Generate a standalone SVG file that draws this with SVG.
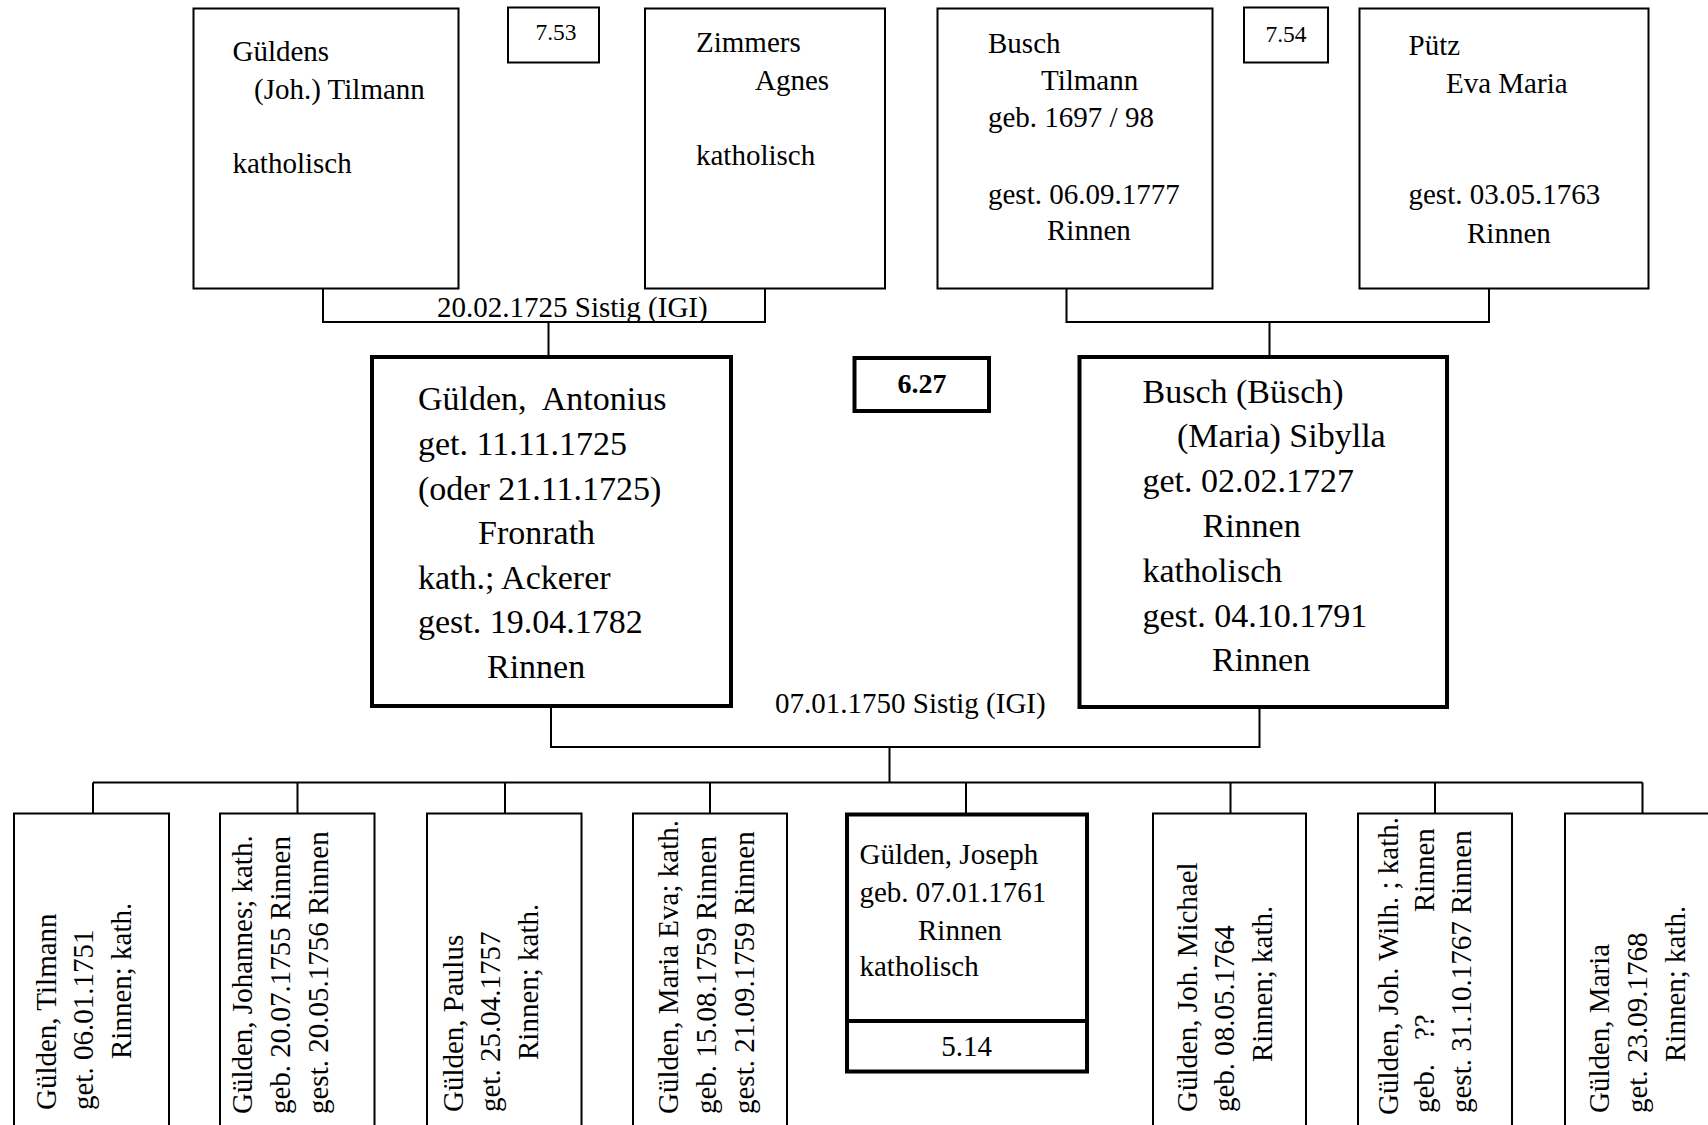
<svg xmlns="http://www.w3.org/2000/svg" width="1708" height="1125" viewBox="0 0 1708 1125">
<style>
text{font-family:"Liberation Serif","Times New Roman",serif;fill:#000;white-space:pre}
.t{font-size:29px}
.b{font-size:34px}
.s{font-size:23.5px}
.n{fill:#fff;stroke:#000;stroke-width:2}
.k{fill:#fff;stroke:#000;stroke-width:4}
.c{fill:none;stroke:#000;stroke-width:2}
</style>
<rect width="1708" height="1125" fill="#fff"/>
<g id="connectors">
<path class="c" d="M323,289V322H765V289M548.5,322V357"/>
<path class="c" d="M1066.5,289V322H1489V289M1269.5,322V357"/>
<path class="c" d="M551,707V747H1259.5V707M889.5,747V782.5"/>
<path class="c" d="M93,782.5H1642.5M93,782.5V813.5M297.5,782.5V813.5M505,782.5V813.5M710,782.5V813.5M966,782.5V813M1230.5,782.5V813.5M1435,782.5V813.5M1642.5,782.5V813.5"/>
<text class="t" x="437" y="317">20.02.1725 Sistig (IGI)</text>
<text class="t" x="775" y="713">07.01.1750 Sistig (IGI)</text>
</g>
<g id="n753"><rect class="n" x="508" y="7.5" width="91" height="55"/><text class="s" x="556" y="40" text-anchor="middle">7.53</text></g>
<g id="n754"><rect class="n" x="1244" y="7.5" width="84" height="55"/><text class="s" x="1286" y="41.5" text-anchor="middle">7.54</text></g>
<g id="gueldens"><rect class="n" x="193.5" y="8.5" width="265" height="280"/>
<text class="t"><tspan x="232.5" y="61">Güldens</tspan><tspan x="254" y="99">(Joh.) Tilmann</tspan><tspan x="232.5" y="173">katholisch</tspan></text></g>
<g id="zimmers"><rect class="n" x="645" y="8.5" width="240" height="280"/>
<text class="t"><tspan x="696" y="52">Zimmers</tspan><tspan x="755" y="89.5">Agnes</tspan><tspan x="696" y="164.5">katholisch</tspan></text></g>
<g id="busch"><rect class="n" x="937.5" y="8.5" width="275" height="280"/>
<text class="t"><tspan x="988" y="52.5">Busch</tspan><tspan x="1041" y="90">Tilmann</tspan><tspan x="988" y="127">geb. 1697 / 98</tspan><tspan x="988" y="203.5">gest. 06.09.1777</tspan><tspan x="1047" y="240">Rinnen</tspan></text></g>
<g id="puetz"><rect class="n" x="1359.5" y="8.5" width="289" height="280"/>
<text class="t"><tspan x="1408.5" y="55">Pütz</tspan><tspan x="1446" y="92.5">Eva Maria</tspan><tspan x="1408.5" y="204">gest. 03.05.1763</tspan><tspan x="1467" y="243">Rinnen</tspan></text></g>
<g id="antonius"><rect class="k" x="372" y="357" width="359" height="349"/>
<text class="b"><tspan x="418" y="410">Gülden,  Antonius</tspan><tspan x="418" y="455">get. 11.11.1725</tspan><tspan x="418" y="500">(oder 21.11.1725)</tspan><tspan x="478" y="544">Fronrath</tspan><tspan x="418" y="589">kath.; Ackerer</tspan><tspan x="418" y="633">gest. 19.04.1782</tspan><tspan x="487" y="678">Rinnen</tspan></text></g>
<g id="n627"><rect class="k" x="854.5" y="358" width="134.5" height="53"/><text x="922" y="392.5" text-anchor="middle" font-size="28" font-weight="bold">6.27</text></g>
<g id="sibylla"><rect class="k" x="1079.5" y="357" width="367.5" height="350"/>
<text class="b"><tspan x="1142.5" y="403">Busch (Büsch)</tspan><tspan x="1177" y="447">(Maria) Sibylla</tspan><tspan x="1142.5" y="492">get. 02.02.1727</tspan><tspan x="1202.5" y="537">Rinnen</tspan><tspan x="1142.5" y="582">katholisch</tspan><tspan x="1142.5" y="627">gest. 04.10.1791</tspan><tspan x="1212" y="671">Rinnen</tspan></text></g>
<g id="c1"><rect class="n" x="14" y="813.5" width="155" height="330"/>
<text class="t" transform="rotate(-90)"><tspan x="-1110" y="55.5">Gülden, Tilmann</tspan><tspan x="-1110" y="93">get. 06.01.1751</tspan><tspan x="-1059" y="130.5">Rinnen; kath.</tspan></text></g>
<g id="c2"><rect class="n" x="220" y="813.5" width="154.5" height="330"/>
<text class="t" transform="rotate(-90)"><tspan x="-1114" y="252">Gülden, Johannes; kath.</tspan><tspan x="-1114" y="290">geb. 20.07.1755 Rinnen</tspan><tspan x="-1114" y="327.5">gest. 20.05.1756 Rinnen</tspan></text></g>
<g id="c3"><rect class="n" x="427" y="813.5" width="154.5" height="330"/>
<text class="t" transform="rotate(-90)"><tspan x="-1112" y="462.5">Gülden, Paulus</tspan><tspan x="-1112" y="500">get. 25.04.1757</tspan><tspan x="-1060" y="537.5">Rinnen; kath.</tspan></text></g>
<g id="c4"><rect class="n" x="633" y="813.5" width="154" height="330"/>
<text class="t" transform="rotate(-90)"><tspan x="-1114" y="678">Gülden, Maria Eva; kath.</tspan><tspan x="-1114" y="716">geb. 15.08.1759 Rinnen</tspan><tspan x="-1114" y="754">gest. 21.09.1759 Rinnen</tspan></text></g>
<g id="joseph"><rect class="k" x="847" y="814.5" width="240" height="257"/><path d="M847,1021H1087" stroke="#000" stroke-width="4"/>
<text class="t"><tspan x="859.5" y="863.5">Gülden, Joseph</tspan><tspan x="859.5" y="901.5">geb. 07.01.1761</tspan><tspan x="918" y="939.5">Rinnen</tspan><tspan x="859.5" y="976">katholisch</tspan></text>
<text class="t" x="966.5" y="1056" text-anchor="middle">5.14</text></g>
<g id="c6"><rect class="n" x="1153" y="813.5" width="153" height="330"/>
<text class="t" transform="rotate(-90)"><tspan x="-1112" y="1197">Gülden, Joh. Michael</tspan><tspan x="-1112" y="1234">geb. 08.05.1764</tspan><tspan x="-1062" y="1272">Rinnen; kath.</tspan></text></g>
<g id="c7"><rect class="n" x="1358" y="813.5" width="154" height="330"/>
<text class="t" transform="rotate(-90)"><tspan x="-1115" y="1398">Gülden, Joh. Wilh. ; kath.</tspan><tspan x="-1113" y="1434">geb.</tspan><tspan x="-1040" y="1434">??</tspan><tspan x="-912" y="1434">Rinnen</tspan><tspan x="-1113" y="1471">gest. 31.10.1767 Rinnen</tspan></text></g>
<g id="c8"><rect class="n" x="1565" y="813.5" width="160" height="330"/>
<text class="t" transform="rotate(-90)"><tspan x="-1113" y="1609">Gülden, Maria</tspan><tspan x="-1113" y="1647">get. 23.09.1768</tspan><tspan x="-1062" y="1685">Rinnen; kath.</tspan></text></g>
</svg>
